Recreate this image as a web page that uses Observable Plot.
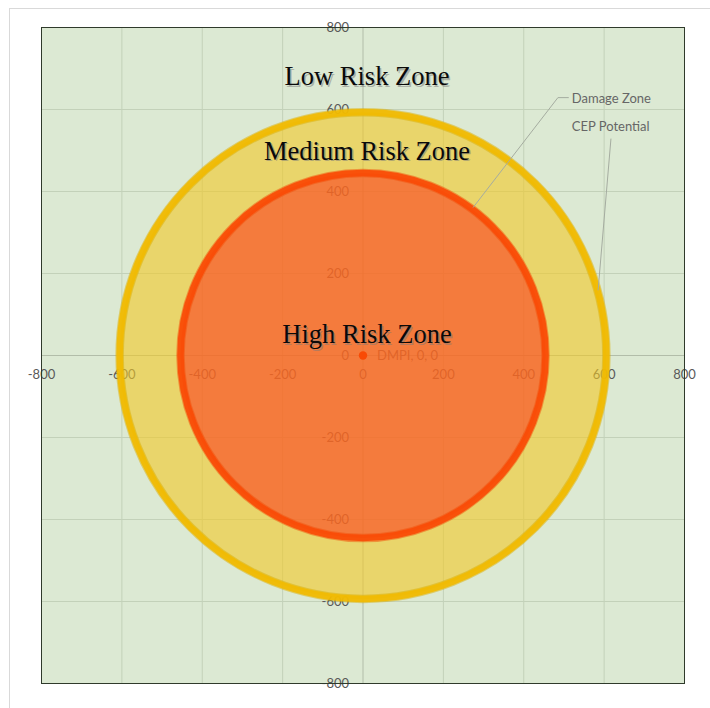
<!DOCTYPE html>
<html>
<head>
<meta charset="utf-8">
<script src="https://cdn.jsdelivr.net/npm/d3@7"></script>
<script src="https://cdn.jsdelivr.net/npm/@observablehq/plot@0.6"></script>
<style>
  html, body { margin: 0; padding: 0; background: #ffffff; }
  #wrap { position: relative; width: 710px; height: 708px; overflow: hidden; }
  #outer { position: absolute; left: 9px; top: 8px; width: 760px; height: 760px; border: 1px solid #d9d9d9; box-sizing: border-box; }
  #chart { position: absolute; left: 0; top: 0; }
</style>
</head>
<body>
<div id="wrap"><div id="outer"></div><div id="chart"></div></div>
<script>
// ---- data ----
const ticks = [-800, -600, -400, -200, 0, 200, 400, 600, 800];
const gridTicks = [-600, -400, -200, 200, 400, 600];
const zoneNames = ["CEP Potential", "Damage Zone"];
const zoneRadius = [600, 450];
const zoneFill = ["#f2c826", "#fb3f1e"];
const zoneStroke = ["#f2ba00", "#f94a05"];
const zoneEdge = ["#dcb000", "#f4500a"];
const pointLabel = ["DMPI, 0, 0"];
const pointX = [0];
const pointY = [0];
const riskNames = ["Low Risk Zone", "Medium Risk Zone", "High Risk Zone"];
const riskX = [10, 10, 10];
const riskY = [680, 498, 51];
// data labels with leader lines: label anchor -> point on ring
const leaderNames = ["Damage Zone", "CEP Potential"];
const leaderFromX = [485, 617];
const leaderFromY = [629, 529];
const leaderToX = [274, 585];
const leaderToY = [361, 159];
const leaderLabelX = [512, 512];
const leaderLabelY = [627, 558];

const zones = zoneNames.map((n, i) => ({name: n, r: zoneRadius[i], fill: zoneFill[i], stroke: zoneStroke[i], edge: zoneEdge[i], x: pointX[0], y: pointY[0]}));
const points = pointLabel.map((l, i) => ({label: l, x: pointX[i], y: pointY[i]}));
const risks = riskNames.map((n, i) => ({name: n, x: riskX[i], y: riskY[i]}));
const leaders = leaderNames.map((n, i) => ({name: n, x1: leaderFromX[i], y1: leaderFromY[i], x2: leaderToX[i], y2: leaderToY[i], lx: leaderLabelX[i], ly: leaderLabelY[i]}));

const tickFont = "Lato, 'Open Sans', sans-serif";
const serif = "'Liberation Serif', 'DejaVu Serif', serif";

const chart = Plot.plot({
  width: 710,
  height: 708,
  marginLeft: 41,
  marginRight: 26,
  marginTop: 27,
  marginBottom: 25,
  x: {domain: [-800, 800], axis: null},
  y: {domain: [-800, 800], axis: null},
  r: {type: "linear", domain: [0, 800], range: [0, 324.5]},
  style: {background: "transparent", overflow: "visible"},
  marks: [
    Plot.frame({fill: "#dce9d3", stroke: null}),
    Plot.ruleX(gridTicks, {stroke: "#c3d1b9", strokeWidth: 1}),
    Plot.ruleY(gridTicks, {stroke: "#c3d1b9", strokeWidth: 1}),
    Plot.ruleX([0], {stroke: "#b2bda9", strokeWidth: 1}),
    Plot.ruleY([0], {stroke: "#b2bda9", strokeWidth: 1}),
    // tick labels (drawn under the translucent zones)
    Plot.text(ticks, {x: d => d, y: 0, text: d => String(d), dy: 19, fill: "#595959", fontSize: 13, fontFamily: tickFont}),
    Plot.text(ticks, {x: 0, y: d => d, text: d => String(d), dx: -14, textAnchor: "end", fill: "#595959", fontSize: 13, fontFamily: tickFont}),
    Plot.text(points, {x: "x", y: "y", text: "label", dx: 14, textAnchor: "start", fill: "#595959", fontSize: 13, fontFamily: tickFont}),
    // zones
    Plot.dot(zones, {x: "x", y: "y", r: "r", fill: "fill", fillOpacity: 0.6, stroke: "edge", strokeWidth: 8.5, strokeOpacity: 0.5}),
    Plot.dot(zones, {x: "x", y: "y", r: "r", fill: "none", stroke: "stroke", strokeWidth: 6.5, strokeOpacity: 0.9}),
    // point
    Plot.dot(points, {x: "x", y: "y", r: 4.2, fill: "#f94a05", stroke: null}),
    // leader lines and labels
    Plot.link(leaders, {x1: "x1", y1: "y1", x2: "x2", y2: "y2", stroke: "#a5aca0", strokeWidth: 1}),
    Plot.link(leaders.slice(0, 1), {x1: "x1", y1: "y1", x2: "lx", y2: "y1", stroke: "#a5aca0", strokeWidth: 1}),
    Plot.text(leaders, {x: "lx", y: "ly", text: "name", dx: 3, textAnchor: "start", fill: "#666666", fontSize: 13, fontFamily: tickFont}),
    // risk titles with soft shadow
    Plot.text(risks, {x: "x", y: "y", text: "name", dx: 1.5, dy: 1.5, fill: "#7a7a7a", fillOpacity: 0.5, fontSize: 26.5, fontFamily: serif}),
    Plot.text(risks, {x: "x", y: "y", text: "name", fill: "#0a0a0a", fontSize: 26.5, fontFamily: serif}),
    Plot.frame({stroke: "#2f3a2b", strokeWidth: 1})
  ]
});
document.getElementById("chart").appendChild(chart);
</script>
</body>
</html>
